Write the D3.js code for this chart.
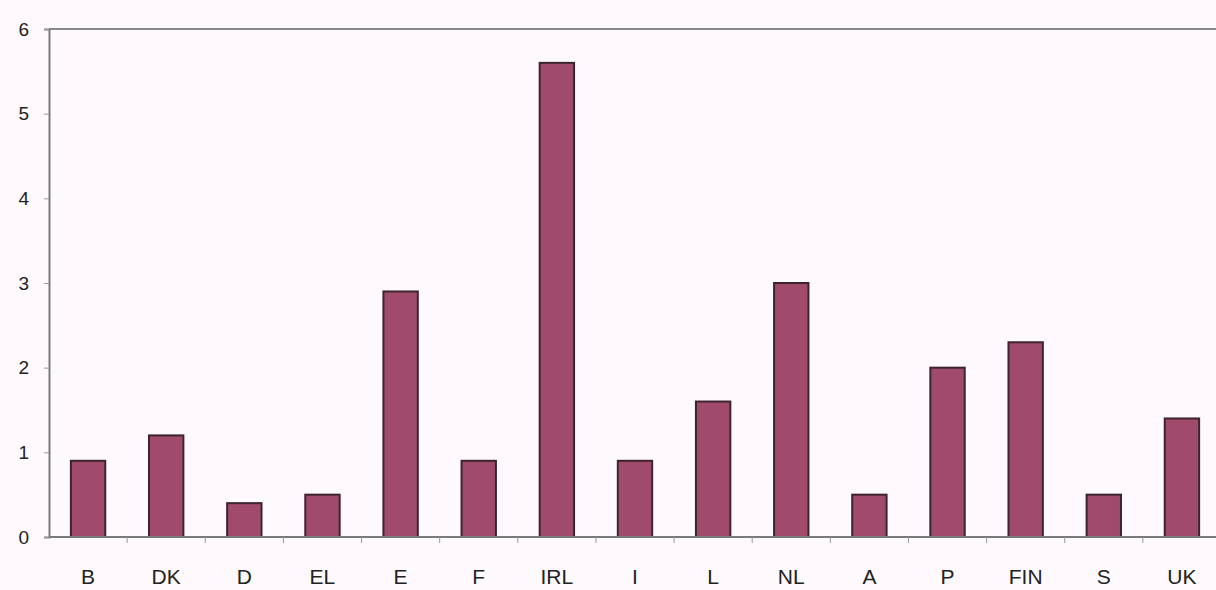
<!DOCTYPE html>
<html>
<head>
<meta charset="utf-8">
<script src="https://cdn.jsdelivr.net/npm/d3@7"></script>
<style>
  html, body { margin: 0; padding: 0; background: #fdf9fc; }
  svg { display: block; }
  text { font-family: "Liberation Sans", Arial, sans-serif; fill: #222; }
</style>
</head>
<body>
<script>
// Member-state codes and their values
const countries = ["B", "DK", "D", "EL", "E", "F", "IRL", "I", "L", "NL", "A", "P", "FIN", "S", "UK"];
const values = [0.9, 1.2, 0.4, 0.5, 2.9, 0.9, 5.6, 0.9, 1.6, 3.0, 0.5, 2.0, 2.3, 0.5, 1.4];
const yTicks = [0, 1, 2, 3, 4, 5, 6];

const W = 1216, H = 590;
const plotLeft = 49, plotRight = 1221, plotTop = 29, plotBottom = 537;

const svg = d3.select("body").append("svg")
  .attr("width", W).attr("height", H);

const x = d3.scaleBand().domain(countries).range([plotLeft, plotRight])
  .paddingInner(0.56).paddingOuter(0.28);
const y = d3.scaleLinear().domain([0, 6]).range([plotBottom, plotTop]);

// top border of plot area
svg.append("line")
  .attr("x1", plotLeft).attr("x2", W).attr("y1", plotTop).attr("y2", plotTop)
  .attr("stroke", "#8a8a8a").attr("stroke-width", 2);

// bars
svg.append("g").selectAll("rect").data(countries).join("rect")
  .attr("x", d => x(d))
  .attr("y", (d, i) => y(values[i]))
  .attr("width", x.bandwidth())
  .attr("height", (d, i) => y(0) - y(values[i]))
  .attr("fill", "#a04a6c")
  .attr("stroke", "#3e2430")
  .attr("stroke-width", 2);

// y axis
const yAxis = svg.append("g").attr("transform", `translate(${plotLeft},0)`)
  .call(d3.axisLeft(y).tickValues(yTicks).tickFormat(d3.format("d")).tickSize(5).tickPadding(15));
yAxis.select(".domain").attr("stroke", "#7a7a7a").attr("stroke-width", 2);
yAxis.selectAll(".tick line").attr("stroke", "#999");
yAxis.selectAll("text").attr("font-size", 19).attr("fill", "#222");

// x axis with ticks between categories
const xAxis = svg.append("g").attr("transform", `translate(0,${plotBottom})`);
xAxis.append("line").attr("x1", plotLeft).attr("x2", W).attr("y1", 0).attr("y2", 0)
  .attr("stroke", "#7a7a7a").attr("stroke-width", 2);
const step = x.step();
xAxis.selectAll("line.sep").data(countries.slice(1)).join("line")
  .attr("class", "sep")
  .attr("x1", d => x(d) - (step - x.bandwidth()) / 2)
  .attr("x2", d => x(d) - (step - x.bandwidth()) / 2)
  .attr("y1", 0).attr("y2", 6)
  .attr("stroke", "#999");
xAxis.selectAll("text").data(countries).join("text")
  .attr("x", d => x(d) + x.bandwidth() / 2)
  .attr("y", 47)
  .attr("text-anchor", "middle")
  .attr("font-size", 21)
  .text(d => d);
</script>
</body>
</html>
